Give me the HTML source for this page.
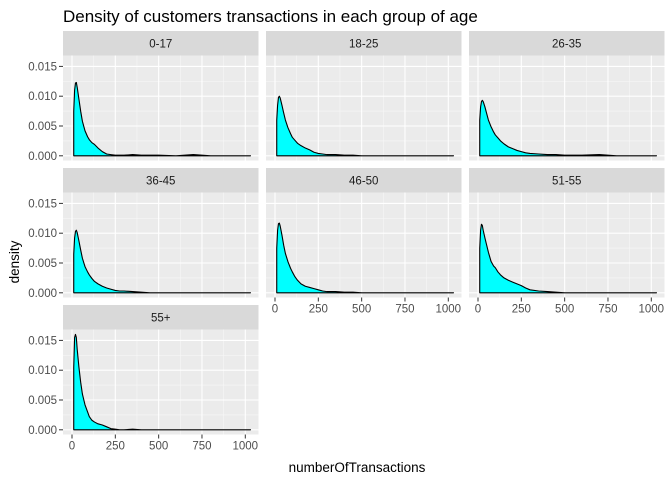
<!DOCTYPE html>
<html><head><meta charset="utf-8"><style>
body{margin:0;background:#fff;}
svg{display:block;font-family:"Liberation Sans",sans-serif;}
</style></head><body>
<svg id="chart" width="672" height="480">
<text x="63" y="22" font-size="17" fill="#000">Density of customers transactions in each group of age</text>
<text transform="translate(19,262) rotate(-90)" font-size="13.5" text-anchor="middle" fill="#000">density</text>
<text x="357" y="472" font-size="13.5" text-anchor="middle" fill="#000">numberOfTransactions</text>
</svg>
<script>
const groups = ["0-17","18-25","26-35","36-45","46-50","51-55","55+"];
const xs = [10,15,20,25,30,40,50,60,75,90,100,115,130,150,175,200,225,250,275,300,350,400,450,500,600,700,800,900,1030];
const d0 = [0.0075,0.011,0.0122,0.0123,0.0115,0.0095,0.0075,0.0058,0.0042,0.0032,0.0027,0.0022,0.0019,0.0013,0.0007,0.0003,0.0002,0.0001,0.0001,0.0001,0.0002,0.0001,0.0001,0.0001,0.0,0.0002,0.0,0.0,0.0];
const d1 = [0.006,0.0085,0.0098,0.01,0.0097,0.0085,0.0072,0.006,0.0047,0.0037,0.0031,0.0026,0.0021,0.0017,0.0013,0.001,0.0006,0.0004,0.0003,0.0002,0.0002,0.0001,0.0001,0.0,0.0,0.0,0.0,0.0,0.0];
const d2 = [0.006,0.0082,0.0091,0.0093,0.0091,0.0082,0.0071,0.006,0.0049,0.004,0.0035,0.003,0.0025,0.002,0.0015,0.0012,0.0009,0.0007,0.0005,0.0004,0.0003,0.0002,0.0002,0.0001,0.0001,0.0002,0.0,0.0,0.0];
const d3 = [0.0065,0.0092,0.0103,0.0105,0.0101,0.0087,0.0072,0.0058,0.0044,0.0035,0.003,0.0024,0.0019,0.0015,0.0011,0.0008,0.0006,0.0004,0.0003,0.0003,0.0002,0.0001,0.0,0.0,0.0,0.0,0.0,0.0,0.0];
const d4 = [0.0075,0.0105,0.0116,0.0117,0.0112,0.0097,0.008,0.0066,0.0052,0.0041,0.0035,0.0027,0.0021,0.0015,0.0011,0.0009,0.0007,0.0005,0.0003,0.0002,0.0002,0.0001,0.0001,0.0,0.0,0.0,0.0,0.0,0.0];
const d5 = [0.0075,0.0105,0.0115,0.0113,0.0105,0.0092,0.008,0.0068,0.0053,0.0045,0.0042,0.0035,0.003,0.0025,0.0021,0.0018,0.0015,0.0012,0.0008,0.0005,0.0003,0.0002,0.0001,0.0,0.0,0.0,0.0,0.0,0.0];
const d6 = [0.0105,0.0155,0.016,0.0155,0.0135,0.0105,0.008,0.006,0.0042,0.003,0.0022,0.0016,0.0013,0.001,0.0008,0.0005,0.0002,0.0001,0.0,0.0,0.0001,0.0,0.0,0.0,0.0,0.0,0.0,0.0,0.0];
const series = [d0,d1,d2,d3,d4,d5,d6];
const yTicks = [0,0.005,0.01,0.015];
const yTickLabels = ["0.000","0.005","0.010","0.015"];
const xTicks = [0,250,500,750,1000];
const xTickLabels = ["0","250","500","750","1000"];

const NS="http://www.w3.org/2000/svg";
const svg=document.getElementById('chart');
const colLeft=[63,266,469], panelW=195.5, rowTop=[31,168,305], stripH=24.5, panelH=105;
function mk(tag,attrs,parent){const e=document.createElementNS(NS,tag);for(const k in attrs)e.setAttribute(k,attrs[k]);(parent||svg).appendChild(e);return e;}
function xScale(left,v){return left+9+v*0.1733;}
function yScale(top,v){return top+100.3-v/0.015*89.4;}

groups.forEach((g,i)=>{
  const r=Math.floor(i/3), c=i%3;
  const left=colLeft[c], st=rowTop[r], top=st+stripH;
  const grp=mk('g',{});
  
  
  const strip=mk('rect',{x:left,y:st,width:panelW,height:stripH,fill:'#d9d9d9'},grp);
  
  
  const sl=mk('text',{x:left+panelW/2,y:st+16.5,'font-size':11.5,'text-anchor':'middle',fill:'#1a1a1a'},grp);
  sl.textContent=g;
  
  
  const bg=mk('rect',{x:left,y:top,width:panelW,height:panelH,fill:'#ebebeb'},grp);
  
  
  // minor grid
  for(let k=0;k<yTicks.length-1;k++){const y=yScale(top,(yTicks[k]+yTicks[k+1])/2);mk('line',{x1:left,x2:left+panelW,y1:y,y2:y,stroke:'#f7f7f7','stroke-width':0.6},grp);}
  for(let k=0;k<xTicks.length-1;k++){const x=xScale(left,(xTicks[k]+xTicks[k+1])/2);mk('line',{x1:x,x2:x,y1:top,y2:top+panelH,stroke:'#f7f7f7','stroke-width':0.6},grp);}
  yTicks.forEach(v=>{const y=yScale(top,v);mk('line',{x1:left,x2:left+panelW,y1:y,y2:y,stroke:'#fff','stroke-width':1.1},grp);});
  xTicks.forEach(v=>{const x=xScale(left,v);mk('line',{x1:x,x2:x,y1:top,y2:top+panelH,stroke:'#fff','stroke-width':1.1},grp);});
  // density area
  const ys=series[i];
  let d='M'+xScale(left,xs[0])+','+yScale(top,0);
  xs.forEach((x,k)=>{d+=' L'+xScale(left,x)+','+yScale(top,ys[k]);});
  d+=' L'+xScale(left,xs[xs.length-1])+','+yScale(top,0)+' Z';
  const area=mk('path',{d:d,fill:'#00ffff',stroke:'#000','stroke-width':1.1,'stroke-linejoin':'round'},grp);
  
  
  // y axis on first column
  if(c===0){
    yTicks.forEach((v,k)=>{const y=yScale(top,v);
      mk('line',{x1:left-4,x2:left,y1:y,y2:y,stroke:'#333','stroke-width':1},grp);
      const t=mk('text',{x:left-6,y:y+4,'font-size':11.5,'text-anchor':'end',fill:'#4d4d4d'},grp);
      t.textContent=yTickLabels[k];
      
      
    });
  }
  // x axis on bottom panels
  const bottom = (r===2) || (r===1 && c>0);
  if(bottom){
    xTicks.forEach((v,k)=>{const x=xScale(left,v);
      mk('line',{x1:x,x2:x,y1:top+panelH,y2:top+panelH+4,stroke:'#333','stroke-width':1},grp);
      const t=mk('text',{x:x,y:top+panelH+15,'font-size':11.5,'text-anchor':'middle',fill:'#4d4d4d'},grp);
      t.textContent=xTickLabels[k];
      
      
    });
  }
});
</script>
</body></html>
